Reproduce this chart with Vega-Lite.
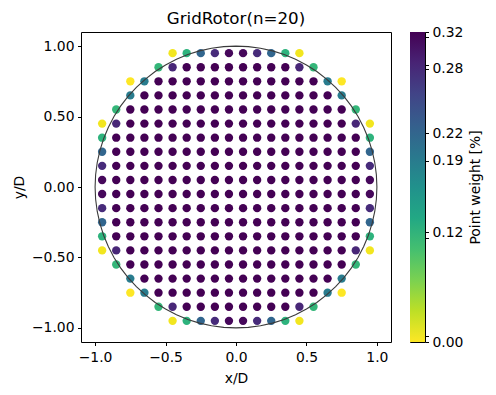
{
  "$schema": "https://vega.github.io/schema/vega-lite/v6.json",
  "autosize": "pad",
  "padding": {"left": 11, "top": 10, "right": 5, "bottom": 5},
  "background": "white",
  "bounds": "flush",
  "spacing": 19,
  "config": {
    "font": "DejaVu Sans",
    "view": {"stroke": "black", "strokeWidth": 1},
    "axis": {"domain": false, "grid": false, "tickColor": "black", "tickSize": 3.5, "tickWidth": 1, "labelColor": "black", "labelFontSize": 13.9, "titleFontSize": 13.9, "titleFontWeight": "normal", "titleColor": "black", "labelPadding": 3.5, "labelFont": "DejaVu Sans", "titleFont": "DejaVu Sans"}
  },
  "datasets": {
    "pts": [
      {"x":-0.45,"y":0.95,"w":0.0096},{"x":-0.35,"y":0.95,"w":0.1154},{"x":-0.25,"y":0.95,"w":0.2158},{"x":-0.15,"y":0.95,"w":0.2809},{"x":-0.05,"y":0.95,"w":0.3130},{"x":0.05,"y":0.95,"w":0.3130},{"x":0.15,"y":0.95,"w":0.2809},{"x":0.25,"y":0.95,"w":0.2158},{"x":0.35,"y":0.95,"w":0.1154},{"x":0.45,"y":0.95,"w":0.0096},
      {"x":-0.55,"y":0.85,"w":0.1096},{"x":-0.45,"y":0.85,"w":0.2846},{"x":-0.35,"y":0.85,"w":0.3183},{"x":-0.25,"y":0.85,"w":0.3183},{"x":-0.15,"y":0.85,"w":0.3183},{"x":-0.05,"y":0.85,"w":0.3183},{"x":0.05,"y":0.85,"w":0.3183},{"x":0.15,"y":0.85,"w":0.3183},{"x":0.25,"y":0.85,"w":0.3183},{"x":0.35,"y":0.85,"w":0.3183},{"x":0.45,"y":0.85,"w":0.2846},{"x":0.55,"y":0.85,"w":0.1096},
      {"x":-0.75,"y":0.75,"w":0.0040},{"x":-0.65,"y":0.75,"w":0.1878},{"x":-0.55,"y":0.75,"w":0.3183},{"x":-0.45,"y":0.75,"w":0.3183},{"x":-0.35,"y":0.75,"w":0.3183},{"x":-0.25,"y":0.75,"w":0.3183},{"x":-0.15,"y":0.75,"w":0.3183},{"x":-0.05,"y":0.75,"w":0.3183},{"x":0.05,"y":0.75,"w":0.3183},{"x":0.15,"y":0.75,"w":0.3183},{"x":0.25,"y":0.75,"w":0.3183},{"x":0.35,"y":0.75,"w":0.3183},{"x":0.45,"y":0.75,"w":0.3183},{"x":0.55,"y":0.75,"w":0.3183},{"x":0.65,"y":0.75,"w":0.1878},{"x":0.75,"y":0.75,"w":0.0040},
      {"x":-0.75,"y":0.65,"w":0.1878},{"x":-0.65,"y":0.65,"w":0.3183},{"x":-0.55,"y":0.65,"w":0.3183},{"x":-0.45,"y":0.65,"w":0.3183},{"x":-0.35,"y":0.65,"w":0.3183},{"x":-0.25,"y":0.65,"w":0.3183},{"x":-0.15,"y":0.65,"w":0.3183},{"x":-0.05,"y":0.65,"w":0.3183},{"x":0.05,"y":0.65,"w":0.3183},{"x":0.15,"y":0.65,"w":0.3183},{"x":0.25,"y":0.65,"w":0.3183},{"x":0.35,"y":0.65,"w":0.3183},{"x":0.45,"y":0.65,"w":0.3183},{"x":0.55,"y":0.65,"w":0.3183},{"x":0.65,"y":0.65,"w":0.3183},{"x":0.75,"y":0.65,"w":0.1878},
      {"x":-0.85,"y":0.55,"w":0.1096},{"x":-0.75,"y":0.55,"w":0.3183},{"x":-0.65,"y":0.55,"w":0.3183},{"x":-0.55,"y":0.55,"w":0.3183},{"x":-0.45,"y":0.55,"w":0.3183},{"x":-0.35,"y":0.55,"w":0.3183},{"x":-0.25,"y":0.55,"w":0.3183},{"x":-0.15,"y":0.55,"w":0.3183},{"x":-0.05,"y":0.55,"w":0.3183},{"x":0.05,"y":0.55,"w":0.3183},{"x":0.15,"y":0.55,"w":0.3183},{"x":0.25,"y":0.55,"w":0.3183},{"x":0.35,"y":0.55,"w":0.3183},{"x":0.45,"y":0.55,"w":0.3183},{"x":0.55,"y":0.55,"w":0.3183},{"x":0.65,"y":0.55,"w":0.3183},{"x":0.75,"y":0.55,"w":0.3183},{"x":0.85,"y":0.55,"w":0.1096},
      {"x":-0.95,"y":0.45,"w":0.0096},{"x":-0.85,"y":0.45,"w":0.2846},{"x":-0.75,"y":0.45,"w":0.3183},{"x":-0.65,"y":0.45,"w":0.3183},{"x":-0.55,"y":0.45,"w":0.3183},{"x":-0.45,"y":0.45,"w":0.3183},{"x":-0.35,"y":0.45,"w":0.3183},{"x":-0.25,"y":0.45,"w":0.3183},{"x":-0.15,"y":0.45,"w":0.3183},{"x":-0.05,"y":0.45,"w":0.3183},{"x":0.05,"y":0.45,"w":0.3183},{"x":0.15,"y":0.45,"w":0.3183},{"x":0.25,"y":0.45,"w":0.3183},{"x":0.35,"y":0.45,"w":0.3183},{"x":0.45,"y":0.45,"w":0.3183},{"x":0.55,"y":0.45,"w":0.3183},{"x":0.65,"y":0.45,"w":0.3183},{"x":0.75,"y":0.45,"w":0.3183},{"x":0.85,"y":0.45,"w":0.2846},{"x":0.95,"y":0.45,"w":0.0096},
      {"x":-0.95,"y":0.35,"w":0.1154},{"x":-0.85,"y":0.35,"w":0.3183},{"x":-0.75,"y":0.35,"w":0.3183},{"x":-0.65,"y":0.35,"w":0.3183},{"x":-0.55,"y":0.35,"w":0.3183},{"x":-0.45,"y":0.35,"w":0.3183},{"x":-0.35,"y":0.35,"w":0.3183},{"x":-0.25,"y":0.35,"w":0.3183},{"x":-0.15,"y":0.35,"w":0.3183},{"x":-0.05,"y":0.35,"w":0.3183},{"x":0.05,"y":0.35,"w":0.3183},{"x":0.15,"y":0.35,"w":0.3183},{"x":0.25,"y":0.35,"w":0.3183},{"x":0.35,"y":0.35,"w":0.3183},{"x":0.45,"y":0.35,"w":0.3183},{"x":0.55,"y":0.35,"w":0.3183},{"x":0.65,"y":0.35,"w":0.3183},{"x":0.75,"y":0.35,"w":0.3183},{"x":0.85,"y":0.35,"w":0.3183},{"x":0.95,"y":0.35,"w":0.1154},
      {"x":-0.95,"y":0.25,"w":0.2158},{"x":-0.85,"y":0.25,"w":0.3183},{"x":-0.75,"y":0.25,"w":0.3183},{"x":-0.65,"y":0.25,"w":0.3183},{"x":-0.55,"y":0.25,"w":0.3183},{"x":-0.45,"y":0.25,"w":0.3183},{"x":-0.35,"y":0.25,"w":0.3183},{"x":-0.25,"y":0.25,"w":0.3183},{"x":-0.15,"y":0.25,"w":0.3183},{"x":-0.05,"y":0.25,"w":0.3183},{"x":0.05,"y":0.25,"w":0.3183},{"x":0.15,"y":0.25,"w":0.3183},{"x":0.25,"y":0.25,"w":0.3183},{"x":0.35,"y":0.25,"w":0.3183},{"x":0.45,"y":0.25,"w":0.3183},{"x":0.55,"y":0.25,"w":0.3183},{"x":0.65,"y":0.25,"w":0.3183},{"x":0.75,"y":0.25,"w":0.3183},{"x":0.85,"y":0.25,"w":0.3183},{"x":0.95,"y":0.25,"w":0.2158},
      {"x":-0.95,"y":0.15,"w":0.2809},{"x":-0.85,"y":0.15,"w":0.3183},{"x":-0.75,"y":0.15,"w":0.3183},{"x":-0.65,"y":0.15,"w":0.3183},{"x":-0.55,"y":0.15,"w":0.3183},{"x":-0.45,"y":0.15,"w":0.3183},{"x":-0.35,"y":0.15,"w":0.3183},{"x":-0.25,"y":0.15,"w":0.3183},{"x":-0.15,"y":0.15,"w":0.3183},{"x":-0.05,"y":0.15,"w":0.3183},{"x":0.05,"y":0.15,"w":0.3183},{"x":0.15,"y":0.15,"w":0.3183},{"x":0.25,"y":0.15,"w":0.3183},{"x":0.35,"y":0.15,"w":0.3183},{"x":0.45,"y":0.15,"w":0.3183},{"x":0.55,"y":0.15,"w":0.3183},{"x":0.65,"y":0.15,"w":0.3183},{"x":0.75,"y":0.15,"w":0.3183},{"x":0.85,"y":0.15,"w":0.3183},{"x":0.95,"y":0.15,"w":0.2809},
      {"x":-0.95,"y":0.05,"w":0.3130},{"x":-0.85,"y":0.05,"w":0.3183},{"x":-0.75,"y":0.05,"w":0.3183},{"x":-0.65,"y":0.05,"w":0.3183},{"x":-0.55,"y":0.05,"w":0.3183},{"x":-0.45,"y":0.05,"w":0.3183},{"x":-0.35,"y":0.05,"w":0.3183},{"x":-0.25,"y":0.05,"w":0.3183},{"x":-0.15,"y":0.05,"w":0.3183},{"x":-0.05,"y":0.05,"w":0.3183},{"x":0.05,"y":0.05,"w":0.3183},{"x":0.15,"y":0.05,"w":0.3183},{"x":0.25,"y":0.05,"w":0.3183},{"x":0.35,"y":0.05,"w":0.3183},{"x":0.45,"y":0.05,"w":0.3183},{"x":0.55,"y":0.05,"w":0.3183},{"x":0.65,"y":0.05,"w":0.3183},{"x":0.75,"y":0.05,"w":0.3183},{"x":0.85,"y":0.05,"w":0.3183},{"x":0.95,"y":0.05,"w":0.3130},
      {"x":-0.95,"y":-0.05,"w":0.3130},{"x":-0.85,"y":-0.05,"w":0.3183},{"x":-0.75,"y":-0.05,"w":0.3183},{"x":-0.65,"y":-0.05,"w":0.3183},{"x":-0.55,"y":-0.05,"w":0.3183},{"x":-0.45,"y":-0.05,"w":0.3183},{"x":-0.35,"y":-0.05,"w":0.3183},{"x":-0.25,"y":-0.05,"w":0.3183},{"x":-0.15,"y":-0.05,"w":0.3183},{"x":-0.05,"y":-0.05,"w":0.3183},{"x":0.05,"y":-0.05,"w":0.3183},{"x":0.15,"y":-0.05,"w":0.3183},{"x":0.25,"y":-0.05,"w":0.3183},{"x":0.35,"y":-0.05,"w":0.3183},{"x":0.45,"y":-0.05,"w":0.3183},{"x":0.55,"y":-0.05,"w":0.3183},{"x":0.65,"y":-0.05,"w":0.3183},{"x":0.75,"y":-0.05,"w":0.3183},{"x":0.85,"y":-0.05,"w":0.3183},{"x":0.95,"y":-0.05,"w":0.3130},
      {"x":-0.95,"y":-0.15,"w":0.2809},{"x":-0.85,"y":-0.15,"w":0.3183},{"x":-0.75,"y":-0.15,"w":0.3183},{"x":-0.65,"y":-0.15,"w":0.3183},{"x":-0.55,"y":-0.15,"w":0.3183},{"x":-0.45,"y":-0.15,"w":0.3183},{"x":-0.35,"y":-0.15,"w":0.3183},{"x":-0.25,"y":-0.15,"w":0.3183},{"x":-0.15,"y":-0.15,"w":0.3183},{"x":-0.05,"y":-0.15,"w":0.3183},{"x":0.05,"y":-0.15,"w":0.3183},{"x":0.15,"y":-0.15,"w":0.3183},{"x":0.25,"y":-0.15,"w":0.3183},{"x":0.35,"y":-0.15,"w":0.3183},{"x":0.45,"y":-0.15,"w":0.3183},{"x":0.55,"y":-0.15,"w":0.3183},{"x":0.65,"y":-0.15,"w":0.3183},{"x":0.75,"y":-0.15,"w":0.3183},{"x":0.85,"y":-0.15,"w":0.3183},{"x":0.95,"y":-0.15,"w":0.2809},
      {"x":-0.95,"y":-0.25,"w":0.2158},{"x":-0.85,"y":-0.25,"w":0.3183},{"x":-0.75,"y":-0.25,"w":0.3183},{"x":-0.65,"y":-0.25,"w":0.3183},{"x":-0.55,"y":-0.25,"w":0.3183},{"x":-0.45,"y":-0.25,"w":0.3183},{"x":-0.35,"y":-0.25,"w":0.3183},{"x":-0.25,"y":-0.25,"w":0.3183},{"x":-0.15,"y":-0.25,"w":0.3183},{"x":-0.05,"y":-0.25,"w":0.3183},{"x":0.05,"y":-0.25,"w":0.3183},{"x":0.15,"y":-0.25,"w":0.3183},{"x":0.25,"y":-0.25,"w":0.3183},{"x":0.35,"y":-0.25,"w":0.3183},{"x":0.45,"y":-0.25,"w":0.3183},{"x":0.55,"y":-0.25,"w":0.3183},{"x":0.65,"y":-0.25,"w":0.3183},{"x":0.75,"y":-0.25,"w":0.3183},{"x":0.85,"y":-0.25,"w":0.3183},{"x":0.95,"y":-0.25,"w":0.2158},
      {"x":-0.95,"y":-0.35,"w":0.1154},{"x":-0.85,"y":-0.35,"w":0.3183},{"x":-0.75,"y":-0.35,"w":0.3183},{"x":-0.65,"y":-0.35,"w":0.3183},{"x":-0.55,"y":-0.35,"w":0.3183},{"x":-0.45,"y":-0.35,"w":0.3183},{"x":-0.35,"y":-0.35,"w":0.3183},{"x":-0.25,"y":-0.35,"w":0.3183},{"x":-0.15,"y":-0.35,"w":0.3183},{"x":-0.05,"y":-0.35,"w":0.3183},{"x":0.05,"y":-0.35,"w":0.3183},{"x":0.15,"y":-0.35,"w":0.3183},{"x":0.25,"y":-0.35,"w":0.3183},{"x":0.35,"y":-0.35,"w":0.3183},{"x":0.45,"y":-0.35,"w":0.3183},{"x":0.55,"y":-0.35,"w":0.3183},{"x":0.65,"y":-0.35,"w":0.3183},{"x":0.75,"y":-0.35,"w":0.3183},{"x":0.85,"y":-0.35,"w":0.3183},{"x":0.95,"y":-0.35,"w":0.1154},
      {"x":-0.95,"y":-0.45,"w":0.0096},{"x":-0.85,"y":-0.45,"w":0.2846},{"x":-0.75,"y":-0.45,"w":0.3183},{"x":-0.65,"y":-0.45,"w":0.3183},{"x":-0.55,"y":-0.45,"w":0.3183},{"x":-0.45,"y":-0.45,"w":0.3183},{"x":-0.35,"y":-0.45,"w":0.3183},{"x":-0.25,"y":-0.45,"w":0.3183},{"x":-0.15,"y":-0.45,"w":0.3183},{"x":-0.05,"y":-0.45,"w":0.3183},{"x":0.05,"y":-0.45,"w":0.3183},{"x":0.15,"y":-0.45,"w":0.3183},{"x":0.25,"y":-0.45,"w":0.3183},{"x":0.35,"y":-0.45,"w":0.3183},{"x":0.45,"y":-0.45,"w":0.3183},{"x":0.55,"y":-0.45,"w":0.3183},{"x":0.65,"y":-0.45,"w":0.3183},{"x":0.75,"y":-0.45,"w":0.3183},{"x":0.85,"y":-0.45,"w":0.2846},{"x":0.95,"y":-0.45,"w":0.0096},
      {"x":-0.85,"y":-0.55,"w":0.1096},{"x":-0.75,"y":-0.55,"w":0.3183},{"x":-0.65,"y":-0.55,"w":0.3183},{"x":-0.55,"y":-0.55,"w":0.3183},{"x":-0.45,"y":-0.55,"w":0.3183},{"x":-0.35,"y":-0.55,"w":0.3183},{"x":-0.25,"y":-0.55,"w":0.3183},{"x":-0.15,"y":-0.55,"w":0.3183},{"x":-0.05,"y":-0.55,"w":0.3183},{"x":0.05,"y":-0.55,"w":0.3183},{"x":0.15,"y":-0.55,"w":0.3183},{"x":0.25,"y":-0.55,"w":0.3183},{"x":0.35,"y":-0.55,"w":0.3183},{"x":0.45,"y":-0.55,"w":0.3183},{"x":0.55,"y":-0.55,"w":0.3183},{"x":0.65,"y":-0.55,"w":0.3183},{"x":0.75,"y":-0.55,"w":0.3183},{"x":0.85,"y":-0.55,"w":0.1096},
      {"x":-0.75,"y":-0.65,"w":0.1878},{"x":-0.65,"y":-0.65,"w":0.3183},{"x":-0.55,"y":-0.65,"w":0.3183},{"x":-0.45,"y":-0.65,"w":0.3183},{"x":-0.35,"y":-0.65,"w":0.3183},{"x":-0.25,"y":-0.65,"w":0.3183},{"x":-0.15,"y":-0.65,"w":0.3183},{"x":-0.05,"y":-0.65,"w":0.3183},{"x":0.05,"y":-0.65,"w":0.3183},{"x":0.15,"y":-0.65,"w":0.3183},{"x":0.25,"y":-0.65,"w":0.3183},{"x":0.35,"y":-0.65,"w":0.3183},{"x":0.45,"y":-0.65,"w":0.3183},{"x":0.55,"y":-0.65,"w":0.3183},{"x":0.65,"y":-0.65,"w":0.3183},{"x":0.75,"y":-0.65,"w":0.1878},
      {"x":-0.75,"y":-0.75,"w":0.0040},{"x":-0.65,"y":-0.75,"w":0.1878},{"x":-0.55,"y":-0.75,"w":0.3183},{"x":-0.45,"y":-0.75,"w":0.3183},{"x":-0.35,"y":-0.75,"w":0.3183},{"x":-0.25,"y":-0.75,"w":0.3183},{"x":-0.15,"y":-0.75,"w":0.3183},{"x":-0.05,"y":-0.75,"w":0.3183},{"x":0.05,"y":-0.75,"w":0.3183},{"x":0.15,"y":-0.75,"w":0.3183},{"x":0.25,"y":-0.75,"w":0.3183},{"x":0.35,"y":-0.75,"w":0.3183},{"x":0.45,"y":-0.75,"w":0.3183},{"x":0.55,"y":-0.75,"w":0.3183},{"x":0.65,"y":-0.75,"w":0.1878},{"x":0.75,"y":-0.75,"w":0.0040},
      {"x":-0.55,"y":-0.85,"w":0.1096},{"x":-0.45,"y":-0.85,"w":0.2846},{"x":-0.35,"y":-0.85,"w":0.3183},{"x":-0.25,"y":-0.85,"w":0.3183},{"x":-0.15,"y":-0.85,"w":0.3183},{"x":-0.05,"y":-0.85,"w":0.3183},{"x":0.05,"y":-0.85,"w":0.3183},{"x":0.15,"y":-0.85,"w":0.3183},{"x":0.25,"y":-0.85,"w":0.3183},{"x":0.35,"y":-0.85,"w":0.3183},{"x":0.45,"y":-0.85,"w":0.2846},{"x":0.55,"y":-0.85,"w":0.1096},
      {"x":-0.45,"y":-0.95,"w":0.0096},{"x":-0.35,"y":-0.95,"w":0.1154},{"x":-0.25,"y":-0.95,"w":0.2158},{"x":-0.15,"y":-0.95,"w":0.2809},{"x":-0.05,"y":-0.95,"w":0.3130},{"x":0.05,"y":-0.95,"w":0.3130},{"x":0.15,"y":-0.95,"w":0.2809},{"x":0.25,"y":-0.95,"w":0.2158},{"x":0.35,"y":-0.95,"w":0.1154},{"x":0.45,"y":-0.95,"w":0.0096}
    ],
    "circle": [
      {"a":0,"cx":1,"cy":0},{"a":5,"cx":0.99619,"cy":0.08716},{"a":10,"cx":0.98481,"cy":0.17365},{"a":15,"cx":0.96593,"cy":0.25882},{"a":20,"cx":0.93969,"cy":0.34202},{"a":25,"cx":0.90631,"cy":0.42262},{"a":30,"cx":0.86603,"cy":0.5},{"a":35,"cx":0.81915,"cy":0.57358},{"a":40,"cx":0.76604,"cy":0.64279},{"a":45,"cx":0.70711,"cy":0.70711},{"a":50,"cx":0.64279,"cy":0.76604},{"a":55,"cx":0.57358,"cy":0.81915},{"a":60,"cx":0.5,"cy":0.86603},{"a":65,"cx":0.42262,"cy":0.90631},{"a":70,"cx":0.34202,"cy":0.93969},{"a":75,"cx":0.25882,"cy":0.96593},{"a":80,"cx":0.17365,"cy":0.98481},{"a":85,"cx":0.08716,"cy":0.99619},
      {"a":90,"cx":0,"cy":1},{"a":95,"cx":-0.08716,"cy":0.99619},{"a":100,"cx":-0.17365,"cy":0.98481},{"a":105,"cx":-0.25882,"cy":0.96593},{"a":110,"cx":-0.34202,"cy":0.93969},{"a":115,"cx":-0.42262,"cy":0.90631},{"a":120,"cx":-0.5,"cy":0.86603},{"a":125,"cx":-0.57358,"cy":0.81915},{"a":130,"cx":-0.64279,"cy":0.76604},{"a":135,"cx":-0.70711,"cy":0.70711},{"a":140,"cx":-0.76604,"cy":0.64279},{"a":145,"cx":-0.81915,"cy":0.57358},{"a":150,"cx":-0.86603,"cy":0.5},{"a":155,"cx":-0.90631,"cy":0.42262},{"a":160,"cx":-0.93969,"cy":0.34202},{"a":165,"cx":-0.96593,"cy":0.25882},{"a":170,"cx":-0.98481,"cy":0.17365},{"a":175,"cx":-0.99619,"cy":0.08716},
      {"a":180,"cx":-1,"cy":0},{"a":185,"cx":-0.99619,"cy":-0.08716},{"a":190,"cx":-0.98481,"cy":-0.17365},{"a":195,"cx":-0.96593,"cy":-0.25882},{"a":200,"cx":-0.93969,"cy":-0.34202},{"a":205,"cx":-0.90631,"cy":-0.42262},{"a":210,"cx":-0.86603,"cy":-0.5},{"a":215,"cx":-0.81915,"cy":-0.57358},{"a":220,"cx":-0.76604,"cy":-0.64279},{"a":225,"cx":-0.70711,"cy":-0.70711},{"a":230,"cx":-0.64279,"cy":-0.76604},{"a":235,"cx":-0.57358,"cy":-0.81915},{"a":240,"cx":-0.5,"cy":-0.86603},{"a":245,"cx":-0.42262,"cy":-0.90631},{"a":250,"cx":-0.34202,"cy":-0.93969},{"a":255,"cx":-0.25882,"cy":-0.96593},{"a":260,"cx":-0.17365,"cy":-0.98481},{"a":265,"cx":-0.08716,"cy":-0.99619},
      {"a":270,"cx":0,"cy":-1},{"a":275,"cx":0.08716,"cy":-0.99619},{"a":280,"cx":0.17365,"cy":-0.98481},{"a":285,"cx":0.25882,"cy":-0.96593},{"a":290,"cx":0.34202,"cy":-0.93969},{"a":295,"cx":0.42262,"cy":-0.90631},{"a":300,"cx":0.5,"cy":-0.86603},{"a":305,"cx":0.57358,"cy":-0.81915},{"a":310,"cx":0.64279,"cy":-0.76604},{"a":315,"cx":0.70711,"cy":-0.70711},{"a":320,"cx":0.76604,"cy":-0.64279},{"a":325,"cx":0.81915,"cy":-0.57358},{"a":330,"cx":0.86603,"cy":-0.5},{"a":335,"cx":0.90631,"cy":-0.42262},{"a":340,"cx":0.93969,"cy":-0.34202},{"a":345,"cx":0.96593,"cy":-0.25882},{"a":350,"cx":0.98481,"cy":-0.17365},{"a":355,"cx":0.99619,"cy":-0.08716},{"a":360,"cx":1,"cy":0}
    ],
    "bar": [{"lo": 0.004, "hi": 0.3183}]
  },
  "hconcat": [
    {
      "width": 310,
      "height": 310,
      "title": {"text": "GridRotor(n=20)", "fontSize": 16.7, "fontWeight": "normal", "color": "black", "offset": 4, "font": "DejaVu Sans"},
      "layer": [
        {
          "data": {"name": "pts"},
          "mark": {"type": "circle", "size": 70, "opacity": 1},
          "encoding": {
            "x": {"field": "x", "type": "quantitative", "scale": {"domain": [-1.1, 1.1], "nice": false, "zero": false}, "axis": {"title": "x/D", "values": [-1, -0.5, 0, 0.5, 1], "format": ".1f", "titlePadding": 7, "labelPadding": 5}},
            "y": {"field": "y", "type": "quantitative", "scale": {"domain": [-1.1, 1.1], "nice": false, "zero": false}, "axis": {"title": "y/D", "values": [-1, -0.75, -0.5, -0.25, 0, 0.25, 0.5, 0.75, 1], "format": ".2f", "titlePadding": 5}},
            "color": {"field": "w", "type": "quantitative", "scale": {"scheme": "viridis", "reverse": true, "domain": [0.004, 0.3183]}, "legend": null}
          }
        },
        {
          "data": {"name": "circle"},
          "mark": {"type": "line", "color": "#3a3a3a", "strokeWidth": 1.1, "interpolate": "linear"},
          "encoding": {
            "x": {"field": "cx", "type": "quantitative"},
            "y": {"field": "cy", "type": "quantitative"},
            "order": {"field": "a", "type": "quantitative"}
          }
        }
      ]
    },
    {
      "width": 15,
      "height": 310,
      "data": {"name": "bar"},
      "mark": {"type": "rect", "color": {"gradient": "linear", "x1": 0, "y1": 1, "x2": 0, "y2": 0, "stops": [
        {"offset": 0, "color": "#fde725"}, {"offset": 0.1, "color": "#bddf26"}, {"offset": 0.2, "color": "#7ad151"}, {"offset": 0.3, "color": "#44bf70"}, {"offset": 0.4, "color": "#22a884"}, {"offset": 0.5, "color": "#21918c"}, {"offset": 0.6, "color": "#2a788e"}, {"offset": 0.7, "color": "#355f8d"}, {"offset": 0.8, "color": "#414487"}, {"offset": 0.9, "color": "#482475"}, {"offset": 1, "color": "#440154"}]}},
      "encoding": {
        "y": {"field": "lo", "type": "quantitative", "scale": {"domain": [0.004, 0.3183], "nice": false, "zero": false},
          "axis": {"orient": "right", "title": "Point weight [%]", "titleAngle": 270, "titleBaseline": "top", "titlePadding": 6, "values": [0.004, 0.0096, 0.1096, 0.1154, 0.1878, 0.2158, 0.2809, 0.2846, 0.313, 0.3183], "labelExpr": "indexof([0.004, 0.1154, 0.1878, 0.2158, 0.2809, 0.3183], datum.value) >= 0 ? format(datum.value, '.2f') : ''", "labelOverlap": false, "labelBound": false, "labelFlush": false}},
        "y2": {"field": "hi"}
      }
    }
  ]
}
